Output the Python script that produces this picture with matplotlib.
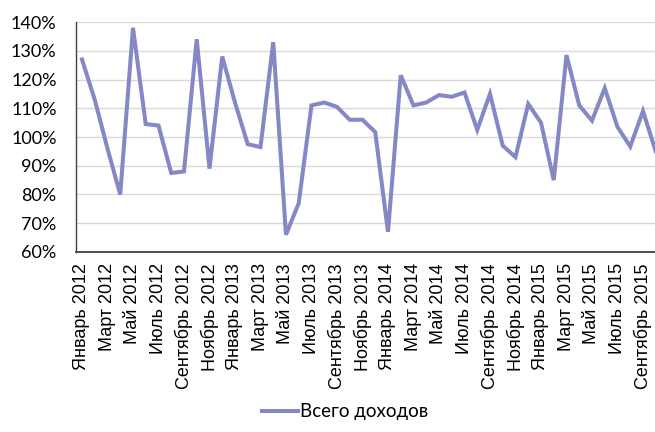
import matplotlib
matplotlib.use("Agg")
from matplotlib import pyplot as plt
from matplotlib.ticker import FuncFormatter, MultipleLocator

months = ['Январь', 'Февраль', 'Март', 'Апрель', 'Май', 'Июнь',
          'Июль', 'Август', 'Сентябрь', 'Октябрь', 'Ноябрь', 'Декабрь']
years = [2012, 2013, 2014, 2015]
labels = ['%s %d' % (m, y) for y in years for m in months][:46]

# всего доходов, % (Январь 2012 - Октябрь 2015)
income = [127, 113, 96, 80, 138, 104.5, 104, 87.5, 88, 134, 89, 128,
          112, 97.5, 96.5, 133, 66, 77, 111, 112, 110.5, 106, 106, 101.7,
          67, 121.5, 111, 112, 114.6, 114, 115.5, 102.5, 115, 97, 93, 111.5,
          105, 85, 128.5, 111, 105.7, 117, 103.5, 96.7, 109, 95]

plt.rcParams['font.family'] = ['Liberation Sans', 'DejaVu Sans']

fig = plt.figure(figsize=(6.55, 4.32), dpi=100)
ax = fig.add_axes([0.116, 0.4167, 0.89, 0.5323])

x = list(range(len(income)))
ax.plot(x, income, color='#8488c4', lw=2.9, solid_joinstyle='miter',
        label='Всего доходов', clip_on=False)

ax.set_ylim(60, 140)
ax.set_xlim(-0.47, 45.25)
ax.yaxis.set_major_locator(MultipleLocator(10))
ax.yaxis.set_major_formatter(FuncFormatter(lambda v, p: '%d%%' % v))
ax.grid(axis='y', color='#d9d9d9', lw=1)
ax.set_axisbelow(True)

ax.set_xticks(x[::2])
ax.set_xticklabels(labels[::2], rotation=90, fontsize=13)
ax.tick_params(axis='x', length=0, pad=8)
ax.tick_params(axis='y', length=0, pad=14)
for t in ax.get_yticklabels():
    t.set_fontfamily(['Lato', 'DejaVu Sans'])
    t.set_fontsize(13)

for s in ['top', 'right']:
    ax.spines[s].set_visible(False)
ax.spines['left'].set_color('#404040')
ax.spines['bottom'].set_color('#404040')
ax.spines['left'].set_linewidth(1)
ax.spines['bottom'].set_linewidth(1.3)

leg = fig.legend(loc='lower center', bbox_to_anchor=(0.527, -0.012), frameon=False,
                 prop={'family': ['Lato', 'DejaVu Sans'], 'size': 13.5},
                 handlelength=1.9, handletextpad=0.15)

fig.savefig('out.png', dpi=100)
